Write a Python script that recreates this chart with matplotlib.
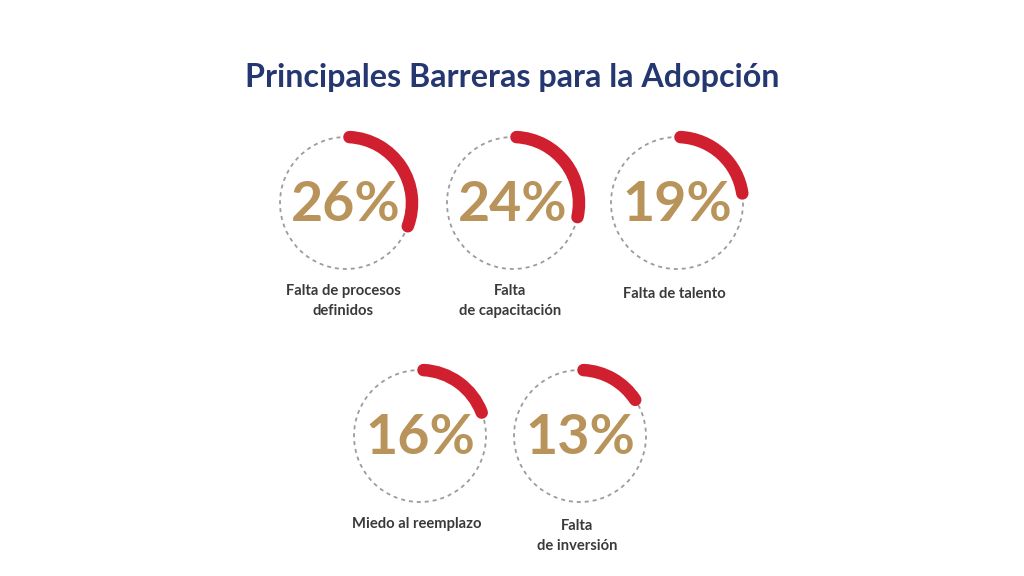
import matplotlib
matplotlib.use("Agg")
import matplotlib.pyplot as plt
from matplotlib.patches import Circle, Arc

title = "Principales Barreras para la Adopción"
labels = ["Falta de procesos\ndefinidos", "Falta\nde capacitación", "Falta de talento",
          "Miedo al reemplazo", "Falta\nde inversión"]
values = [26, 24, 19, 16, 13]

# layout (pixel coordinates, y measured from top)
centers = [(346, 203), (513, 203), (677, 203), (420, 436), (580, 436)]
label_y = [300, 300, 293, 523, 535]
R = 66
ARC_SCALE = 4.14  # degrees of arc drawn per percentage point, as in the reference

W, H = 1024, 576
fig = plt.figure(figsize=(W / 100, H / 100), dpi=100)
ax = fig.add_axes([0, 0, 1, 1])
ax.set_xlim(0, W)
ax.set_ylim(H, 0)
ax.set_aspect("equal")
ax.axis("off")

FONT = ["Lato", "DejaVu Sans"]
gold = "#B8935A"
red = "#D0202F"
navy = "#253770"
grey_txt = "#3A3A3A"

ax.text(512, 77, title, ha="center", va="center", fontsize=23.2, fontweight="bold",
        color=navy, family=FONT)

for (cx, cy), v, lab, ly in zip(centers, values, labels, label_y):
    ax.add_patch(Circle((cx, cy), R, fill=False, edgecolor="#9C9C9C", linewidth=1.3,
                        linestyle=(0, (2.2, 2.2))))
    sweep = v * ARC_SCALE
    # y axis inverted: angles go clockwise on screen from +x; top is -90
    a = Arc((cx, cy), 2 * R, 2 * R, angle=0, theta1=-90 + 3, theta2=-90 + 3 + sweep,
            edgecolor=red, linewidth=9)
    a.set_capstyle("round")
    ax.add_patch(a)
    ax.text(cx, cy + 2, f"{v}%", ha="center", va="center", fontsize=40, fontweight="bold",
            color=gold, family=FONT)
    ax.text(cx - 3, ly + 1, lab, ha="center", va="center", fontsize=10.6, fontweight="bold",
            color=grey_txt, family=FONT, linespacing=1.5)

fig.savefig("out.png", dpi=100, facecolor="white")
